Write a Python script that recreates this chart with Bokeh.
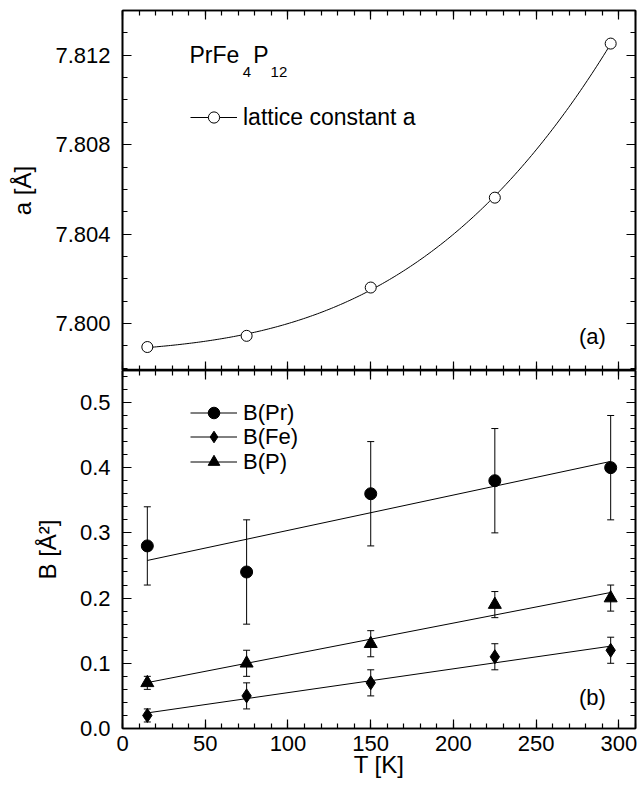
import numpy as np
from bokeh.plotting import figure
from bokeh.layouts import column
from bokeh.models import (LinearAxis, FixedTicker, Range1d, Whisker, TeeHead,
                          ColumnDataSource, Legend, LegendItem, Label)
from bokeh.embed import file_html
from bokeh.resources import INLINE

# ---------------- data ----------------
T = [15, 75, 150, 225, 295]
lattice_a = [7.79895, 7.79945, 7.80161, 7.80563, 7.81252]

B_Pr = [0.28, 0.24, 0.36, 0.38, 0.40]
B_Pr_err = [0.06, 0.08, 0.08, 0.08, 0.08]
B_Fe = [0.02, 0.05, 0.07, 0.11, 0.12]
B_Fe_err = [0.01, 0.02, 0.02, 0.02, 0.02]
B_P = [0.07, 0.10, 0.13, 0.19, 0.20]
B_P_err = [0.01, 0.02, 0.02, 0.02, 0.02]

T_ticks = [0, 50, 100, 150, 200, 250, 300]
T_tick_labels = ["0", "50", "100", "150", "200", "250", "300"]
a_ticks = [7.800, 7.804, 7.808, 7.812]
a_tick_labels = ["7.800", "7.804", "7.808", "7.812"]
B_ticks = [0.0, 0.1, 0.2, 0.3, 0.4, 0.5]
B_tick_labels = ["0.0", "0.1", "0.2", "0.3", "0.4", "0.5"]

FONT = "Liberation Sans"

T_minor = list(range(0, 311, 10))
a_minor = [round(v, 3) for v in np.arange(7.798, 7.8141, 0.001)]
B_minor = [round(v, 2) for v in np.arange(0.0, 0.55, 0.02)]


def style_axis(ax, ticks, show_labels):
    ax.axis_line_width = 1.6
    ax.axis_line_color = "black"
    ax.major_tick_in = 9
    ax.major_tick_out = 0
    ax.minor_tick_in = 5
    ax.minor_tick_out = 0
    ax.major_tick_line_width = 1.2
    ax.minor_tick_line_width = 1.2
    ax.major_tick_line_color = "black"
    ax.minor_tick_line_color = "black"
    ax.major_label_text_font = FONT
    ax.major_label_text_color = "black"
    ax.axis_label_text_font = FONT
    ax.axis_label_text_font_style = "normal"
    ax.axis_label_text_color = "black"
    ax.axis_label_text_font_size = "24px"
    if show_labels:
        ax.major_label_text_font_size = "22px"
    else:
        ax.major_label_overrides = {t: "" for t in ticks}
        ax.major_label_text_font_size = "0px"
        ax.major_label_standoff = 0
        ax.axis_label = None


def make_legend(item, loc, gh, fs="22px"):
    return Legend(items=[item], location=loc, label_text_font=FONT,
                  label_text_font_size=fs, label_text_color="black",
                  glyph_width=47, glyph_height=gh, label_height=gh, spacing=0,
                  padding=0, margin=0, label_standoff=6,
                  border_line_alpha=0, background_fill_alpha=0)


x_range = Range1d(0, 310)

# ---------------- top panel ----------------
p1 = figure(width=638, height=370, x_range=x_range, y_range=Range1d(7.7979, 7.814),
            x_axis_location=None, y_axis_location=None,
            toolbar_location=None, output_backend="svg",
            min_border_left=122, min_border_right=3, min_border_top=10, min_border_bottom=0)
p1.grid.visible = False
p1.outline_line_color = "black"
p1.outline_line_width = 1.6

xt = FixedTicker(ticks=T_ticks, minor_ticks=T_minor)
yt1 = FixedTicker(ticks=a_ticks, minor_ticks=a_minor)

ax = LinearAxis(ticker=xt); style_axis(ax, T_ticks, False); p1.add_layout(ax, "below")
ax = LinearAxis(ticker=xt); style_axis(ax, T_ticks, False); p1.add_layout(ax, "above")
ax = LinearAxis(ticker=yt1, axis_label="a [Å]",
                major_label_overrides=dict(zip(a_ticks, a_tick_labels)))
style_axis(ax, a_ticks, True)
ax.major_label_standoff = 12
ax.axis_label_standoff = 16
p1.add_layout(ax, "left")
ax = LinearAxis(ticker=yt1); style_axis(ax, a_ticks, False); p1.add_layout(ax, "right")

coef = np.polyfit(T, lattice_a, 3)
T_fit = np.linspace(T[0], T[-1], 200)
fit_a = p1.line(T_fit, np.polyval(coef, T_fit), line_color="black", line_width=1)
pts_a = p1.scatter(T, lattice_a, marker="circle", size=11, fill_color="white",
                   line_color="black", line_width=1)

p1.add_layout(make_legend(LegendItem(label="lattice constant a", renderers=[fit_a, pts_a]),
                          (68, 239), 28, "23px"))

for txt, xx, yy, fs in [("PrFe", 40.5, 7.81199, "23px"), ("4", 72.6, 7.81125, "15px"),
                        ("P", 79.0, 7.81199, "23px"), ("12", 89.5, 7.81125, "15px")]:
    p1.add_layout(Label(x=xx, y=yy, text=txt, text_font=FONT, text_font_size=fs,
                        text_color="black", text_baseline="middle"))
p1.add_layout(Label(x=284, y=7.7994, text="(a)", text_font=FONT, text_font_size="22px",
                    text_color="black", text_align="center", text_baseline="middle"))

# ---------------- bottom panel ----------------
p2 = figure(width=638, height=417, x_range=x_range, y_range=Range1d(0.0, 0.549),
            x_axis_location=None, y_axis_location=None,
            toolbar_location=None, output_backend="svg",
            min_border_left=122, min_border_right=3, min_border_top=0, min_border_bottom=59)
p2.grid.visible = False
p2.outline_line_color = "black"
p2.outline_line_width = 1.6

yt2 = FixedTicker(ticks=B_ticks, minor_ticks=B_minor)
ax = LinearAxis(ticker=xt, axis_label="T [K]",
                major_label_overrides=dict(zip(T_ticks, T_tick_labels)))
style_axis(ax, T_ticks, True)
ax.major_label_standoff = 7
ax.axis_label_standoff = -3
p2.add_layout(ax, "below")
ax = LinearAxis(ticker=xt); style_axis(ax, T_ticks, False); p2.add_layout(ax, "above")
ax = LinearAxis(ticker=yt2, axis_label="B [Å²]",
                major_label_overrides=dict(zip(B_ticks, B_tick_labels)))
style_axis(ax, B_ticks, True)
ax.major_label_standoff = 12
ax.axis_label_standoff = 16
p2.add_layout(ax, "left")
ax = LinearAxis(ticker=yt2); style_axis(ax, B_ticks, False); p2.add_layout(ax, "right")

series = [("B(Pr)", B_Pr, B_Pr_err, "circle", 12),
          ("B(Fe)", B_Fe, B_Fe_err, "diamond", 14),
          ("B(P)", B_P, B_P_err, "triangle", 13)]
legend_y = [301, 277, 252]
T_line = np.array([T[0], T[-1]])
for (name, vals, errs, marker, size), ly in zip(series, legend_y):
    vals = np.array(vals)
    errs = np.array(errs)
    src = ColumnDataSource(dict(x=T, lo=vals - errs, hi=vals + errs))
    p2.add_layout(Whisker(source=src, base="x", upper="hi", lower="lo", dimension="height",
                          line_color="black", line_width=1,
                          upper_head=TeeHead(size=7, line_color="black", line_width=1),
                          lower_head=TeeHead(size=7, line_color="black", line_width=1)))
    c = np.polyfit(T, vals, 1)
    ln = p2.line(T_line, np.polyval(c, T_line), line_color="black", line_width=1)
    sc = p2.scatter(T, vals.tolist(), marker=marker, size=size,
                    fill_color="black", line_color="black")
    p2.add_layout(make_legend(LegendItem(label=name, renderers=[ln, sc]), (68, ly), 29))

p2.add_layout(Label(x=284, y=0.048, text="(b)", text_font=FONT, text_font_size="22px",
                    text_color="black", text_align="center", text_baseline="middle"))

layout = column(p1, p2, spacing=0)
open("out.html", "w").write(file_html(layout, INLINE))
